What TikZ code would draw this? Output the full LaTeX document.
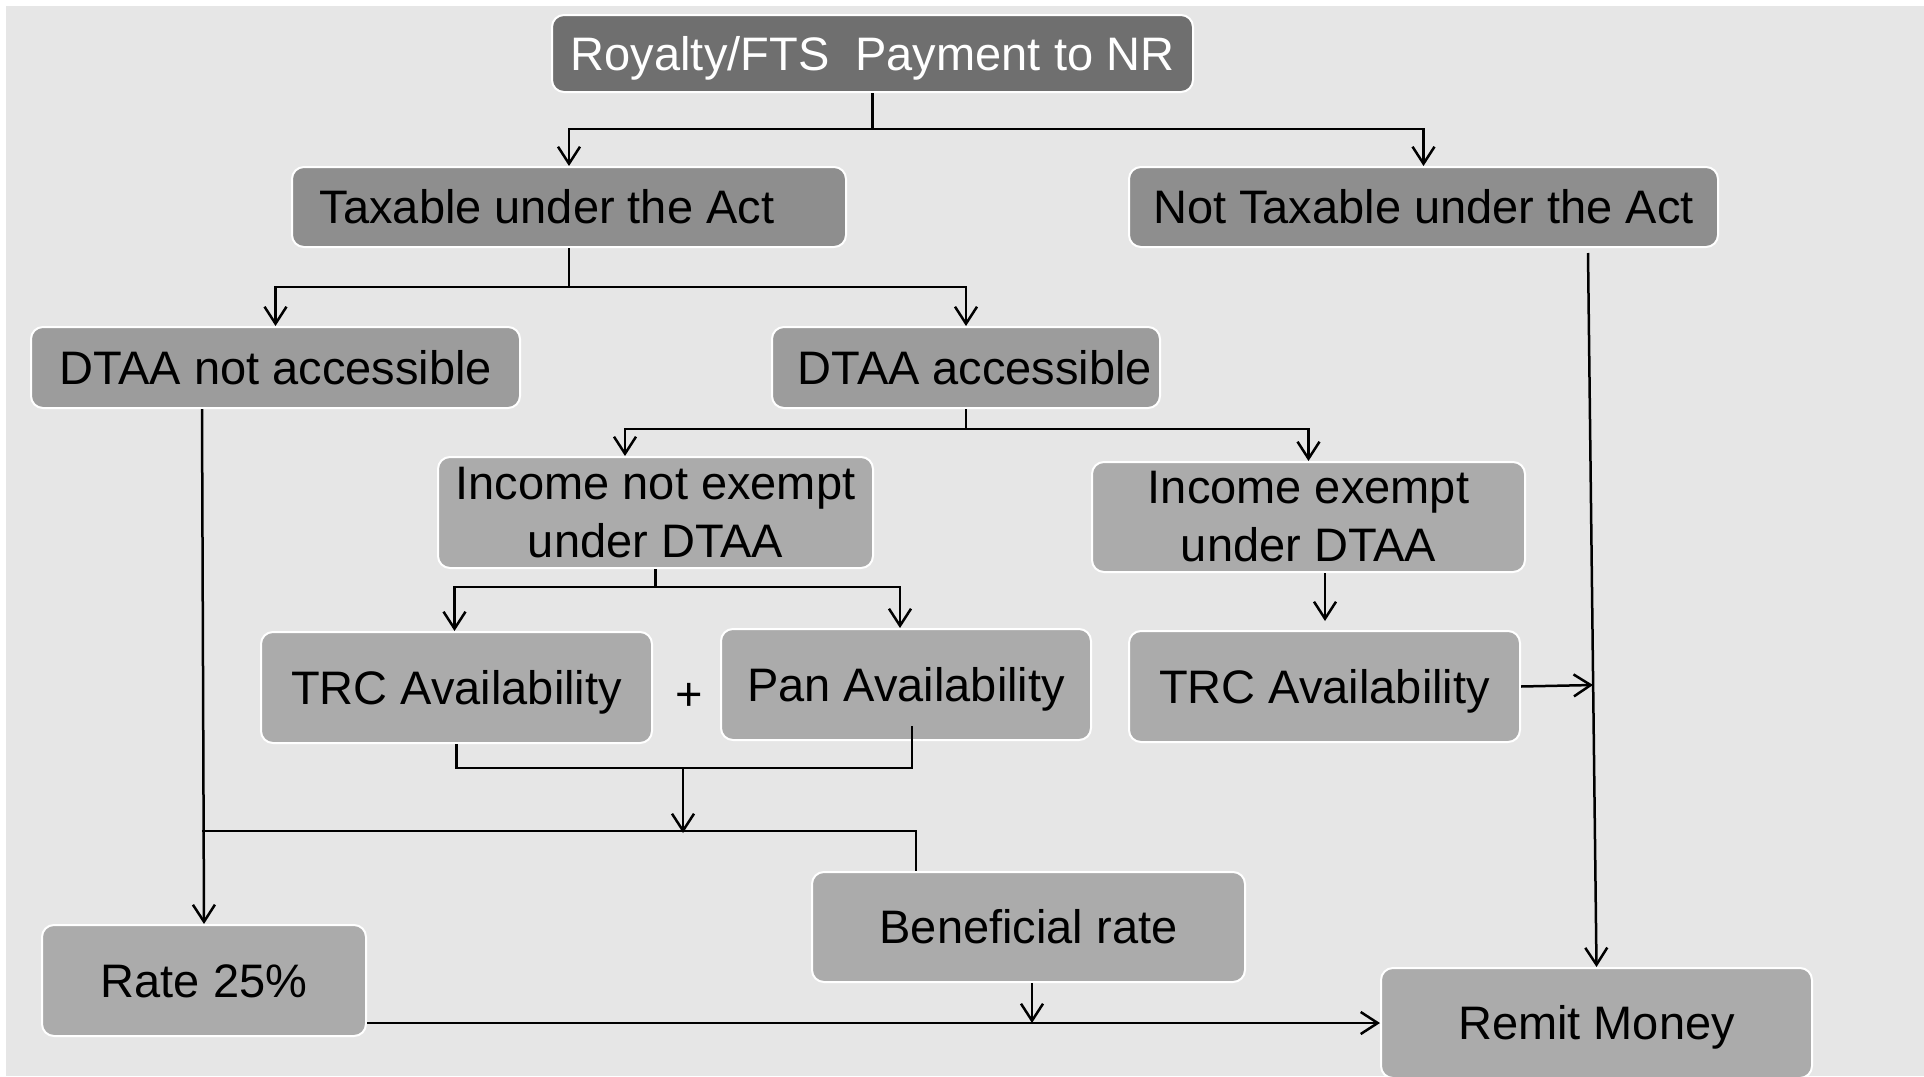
\documentclass[tikz,border=0pt]{standalone}
\usepackage{fontspec}
\setmainfont{Liberation Sans}
\usetikzlibrary{arrows.meta}
\definecolor{bgc}{HTML}{E6E6E6}
\definecolor{topc}{HTML}{6F6F6F}
\definecolor{darkc}{HTML}{8E8E8E}
\definecolor{midc}{HTML}{9C9C9C}
\definecolor{lightc}{HTML}{ABABAB}
\begin{document}
\begin{tikzpicture}[x=1pt,y=-1pt,
  boxbase/.style={draw=white, line width=2pt, rounded corners=12pt, inner sep=0pt,
    font=\fontsize{47}{58}\selectfont},
  box/.style={boxbase, text height=33.7pt, text depth=0pt},
  boxtwo/.style={boxbase, align=center},
  conn/.style={line width=2.5pt, draw=black},
  arr/.style={conn, -{Straight Barb[length=17pt,width=22pt]}}]
\useasboundingbox (0,0) rectangle (1924,1076);
\fill[white] (0,0) rectangle (1924,1076);
\fill[bgc] (6,6) rectangle (1924,1076);

% nodes
\node[box, fill=topc, text=white, minimum width=641pt, minimum height=77pt] (top) at (872.5,53.5) {Royalty/FTS\ \ Payment to NR};
\node[box, fill=darkc, minimum width=554pt, minimum height=80pt] (tax) at (569,207) {Taxable under the Act\hspace*{44pt}\null};
\node[box, fill=darkc, minimum width=589pt, minimum height=80pt] (nottax) at (1423.5,207) {Not Taxable under the Act};
\node[box, fill=midc, minimum width=489pt, minimum height=81pt] (dna) at (275.5,367.5) {DTAA not accessible};
\node[box, fill=midc, minimum width=388pt, minimum height=81pt] (dacc) at (966,367.5) {\hspace{18pt}DTAA accessible};
\node[boxtwo, fill=lightc, minimum width=435pt, minimum height=111pt] (inne) at (655.5,512.5) {Income not exempt\\under DTAA};
\node[boxtwo, fill=lightc, minimum width=433pt, minimum height=110pt] (ine) at (1308.5,517) {Income exempt\\under DTAA};
\node[box, fill=lightc, minimum width=391pt, minimum height=111pt] (trcl) at (456.5,687.5) {TRC Availability};
\node[box, fill=lightc, minimum width=370pt, minimum height=111pt] (pan) at (906,684.5) {Pan Availability};
\node[box, fill=lightc, minimum width=391pt, minimum height=111pt] (trcr) at (1324.5,686.5) {TRC Availability};
\node[box, fill=lightc, minimum width=433pt, minimum height=110pt] (ben) at (1028.5,927) {Beneficial rate};
\node[box, fill=lightc, minimum width=324pt, minimum height=111pt] (rate) at (204,980.5) {Rate 25\%};
\node[box, fill=lightc, minimum width=431pt, minimum height=110pt] (remit) at (1596.5,1023) {Remit Money};
\node[font=\fontsize{47}{58}\selectfont, inner sep=0pt] (plus) at (689,697) {+};

% junction coordinates
\coordinate (j1) at (872.5,129);
\coordinate (j2) at (569,287);
\coordinate (j3) at (966,429);
\coordinate (j4) at (655.5,587);
\coordinate (j5) at (683,768);
\coordinate (j6) at (683,833);
\coordinate (h1) at (202,831);
\coordinate (nt1) at (1588,253);
\coordinate (e1) at (1325,621);
\coordinate (e2) at (1593,685);
\coordinate (e3) at (1032,1023);
\coordinate (p1) at (912,726);

% connectors
\draw[conn] (top.south) -- (j1);
\draw[arr] (j1) -| (tax.north);
\draw[arr] (j1) -| (nottax.north);

\draw[conn] (tax.south) -- (j2);
\draw[arr] (j2) -| (dna.north);
\draw[arr] (j2) -| (dacc.north);

\draw[conn] (dacc.south) -- (j3);
\draw[arr] (j3) -| ([xshift=-30.5pt]inne.north);
\draw[arr] (j3) -| (ine.north);

\draw[conn] (inne.south) -- (j4);
\draw[arr] (j4) -| ([xshift=-2pt]trcl.north);
\draw[arr] (j4) -| ([xshift=-6pt]pan.north);

\draw[arr] (ine.south -| e1) -- (e1);
\draw[arr] (trcr.east) -- (e2);
\draw[arr] (nt1) -- (remit.north);

\draw[conn] (trcl.south) -- (trcl.south |- j5) -- (p1 |- j5) -- (p1);
\draw[arr] (j5) -- (j6);
\draw[conn] (h1) -| ([xshift=-112.5pt]ben.north);
\draw[arr] ([xshift=-73.5pt]dna.south) -- (rate.north);
\draw[arr] (ben.south -| e3) -- (e3);
\draw[arr] (rate.east |- remit.west) -- (remit.west);
\end{tikzpicture}
\end{document}
